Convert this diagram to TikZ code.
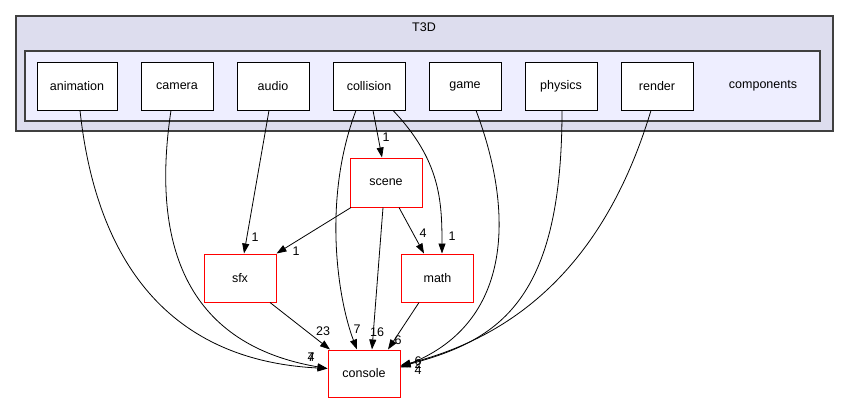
\documentclass[tikz,border=0pt]{standalone}
\usepackage{fontspec}
\setmainfont{Liberation Sans}
\usetikzlibrary{arrows.meta,calc}
\definecolor{outerfill}{HTML}{DDDDEE}
\definecolor{innerfill}{HTML}{EEEEFF}
\definecolor{frame}{HTML}{404040}
\begin{document}
\begin{tikzpicture}[x=1pt,y=-1pt,
  every node/.style={font=\fontsize{12.5}{14}\selectfont},
  dirbox/.style={draw=black,fill=white,line width=0.8pt,minimum width=72pt,minimum height=48pt,inner sep=0pt},
  extbox/.style={draw=red,fill=white,line width=1pt,minimum width=72pt,minimum height=48pt,inner sep=0pt},
  dep/.style={draw=black,line width=0.8pt,-{Triangle[length=10pt,width=7pt]}},
  lbl/.style={inner sep=0pt}]
\useasboundingbox (0,0) rectangle (848,404);
% clusters
\node[draw=frame,fill=outerfill,line width=1.3pt,minimum width=817pt,minimum height=115pt,inner sep=0pt] (t3d) at (424.5,73.5) {};
\node[lbl] (t3dlbl) at (424,27) {T3D};
\node[draw=frame,fill=innerfill,line width=1.3pt,minimum width=795pt,minimum height=70pt,inner sep=0pt] (comp) at (422.5,86) {};
\node[lbl] (complbl) at (763,86) {components};
% directory boxes
\node[dirbox,minimum width=80pt] (animation) at (77,86) {animation};
\node[dirbox] (camera) at (177,86) {camera};
\node[dirbox] (audio) at (273,86) {audio};
\node[dirbox] (collision) at (369,86) {collision};
\node[dirbox] (game) at (465,86) {game};
\node[dirbox] (physics) at (561,86) {physics};
\node[dirbox] (render) at (657,86) {render};
% external
\node[extbox,minimum height=49pt] (scene) at (386,182.5) {scene};
\node[extbox] (sfx) at (240,278) {sfx};
\node[extbox] (math) at (437.5,278) {math};
\node[extbox,minimum height=47pt] (console) at (364,373.5) {console};
% edges
\draw[dep] ($(animation.south)+(3,0)$) .. controls (95,250) and (160,360) .. ($(console.west)+(0,-5)$);
\draw[dep] ($(camera.south)+(-6,0)$) .. controls (150,250) and (190,345) .. ($(console.west)+(0,-5)$);
\draw[dep] ($(audio.south)+(-4,0)$) -- ($(sfx.north)+(4,0)$);
\draw[dep] ($(collision.south)+(4,0)$) -- ($(scene.north)+(-4,0)$);
\draw[dep] ($(collision.south)+(24,0)$) .. controls (440,160) and (442,200) .. ($(math.north)+(4.5,0)$);
\draw[dep] ($(collision.south)+(-13,0)$) .. controls (322,200) and (338,300) .. ($(console.north)+(-7,0)$);
\draw[dep] ($(scene.south)+(-35,0)$) -- (sfx.north east);
\draw[dep] ($(scene.south)+(-3,0)$) -- ($(console.north)+(8,0)$);
\draw[dep] ($(scene.south)+(13,0)$) -- ($(math.north)+(-13.5,0)$);
\draw[dep] ($(sfx.south)+(30,0)$) -- ($(console.north)+(-34,0)$);
\draw[dep] ($(math.south)+(-18.5,0)$) -- ($(console.north)+(24,0)$);
\draw[dep] ($(game.south)+(11,0)$) .. controls (510,200) and (520,320) .. ($(console.east)+(0,-6)$);
\draw[dep] ($(physics.south)+(1,0)$) .. controls (562,300) and (500,340) .. ($(console.east)+(0,-7)$);
\draw[dep] ($(render.south)+(-6,0)$) .. controls (600,280) and (500,340) .. ($(console.east)+(0,-8)$);
% labels
\node[lbl] (l1) at (311,357) {7};
\node[lbl] (l2) at (311,357) {4};
\node[lbl] (l3) at (255,237) {1};
\node[lbl] (l4) at (386,137) {1};
\node[lbl] (l5) at (452,236) {1};
\node[lbl] (l6) at (357,329) {7};
\node[lbl] (l7) at (296,251) {1};
\node[lbl] (l8) at (377,332) {16};
\node[lbl] (l9) at (423,233) {4};
\node[lbl] (l10) at (323,331) {23};
\node[lbl] (l11) at (398,340) {6};
\node[lbl] (l12) at (418,361) {6};
\node[lbl] (l13) at (418,364) {2};
\node[lbl] (l14) at (418,370) {4};
\end{tikzpicture}
\end{document}
